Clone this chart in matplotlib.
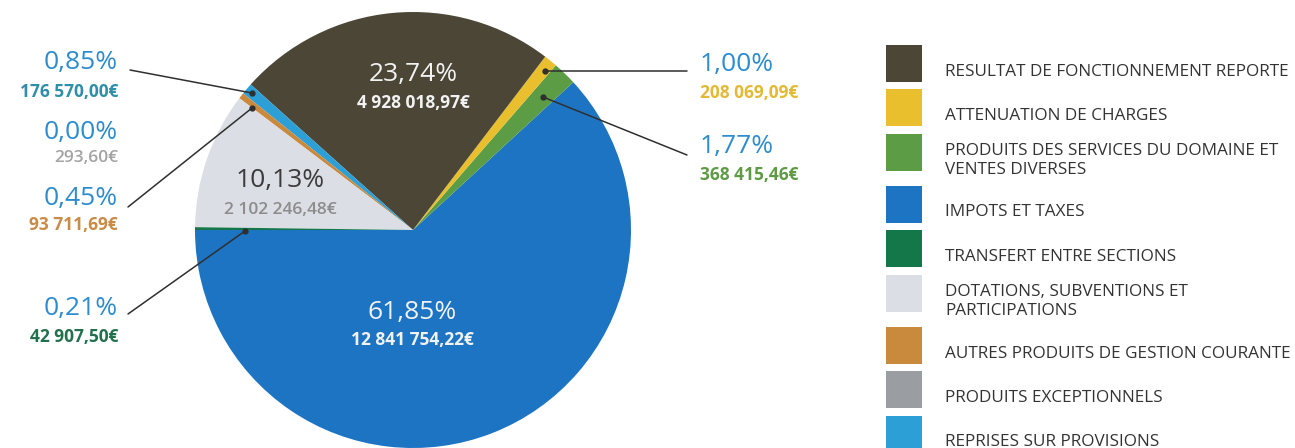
import matplotlib.pyplot as plt
from matplotlib.patches import Rectangle

plt.rcParams["font.family"] = ["Open Sans", "DejaVu Sans"]

# Recettes de fonctionnement, ordre de la légende
categories = [
    "RESULTAT DE FONCTIONNEMENT REPORTE",
    "ATTENUATION DE CHARGES",
    "PRODUITS DES SERVICES DU DOMAINE ET\nVENTES DIVERSES",
    "IMPOTS ET TAXES",
    "TRANSFERT ENTRE SECTIONS",
    "DOTATIONS, SUBVENTIONS ET\nPARTICIPATIONS",
    "AUTRES PRODUITS DE GESTION COURANTE",
    "PRODUITS EXCEPTIONNELS",
    "REPRISES SUR PROVISIONS",
]
amounts = [
    4928018.97,
    208069.09,
    368415.46,
    12841754.22,
    42907.50,
    2102246.48,
    93711.69,
    293.60,
    176570.00,
]
colors = [
    "#4b4636",
    "#e9bf2e",
    "#5c9c44",
    "#1c74c2",
    "#13774a",
    "#dcdee5",
    "#c98a3e",
    "#9a9da2",
    "#2b9fd6",
]
amount_colors = [
    "#f2f2f2",
    "#e3b935",
    "#5f9a45",
    "#f2f2f2",
    "#23704c",
    "#8c8c8c",
    "#c98b45",
    "#a3a3a3",
    "#2f8fa8",
]
# order of the wedges around the pie, starting from the left going down
pie_order = [3, 2, 1, 0, 8, 7, 6, 5, 4]

total = sum(amounts)


def fr_pct(v):
    return "{:.2f}%".format(100 * v / total).replace(".", ",")


def fr_eur(v):
    return "{:,.2f}€".format(v).replace(",", " ").replace(".", ",")


fig = plt.figure(figsize=(12.95, 4.48), dpi=100)
ax = fig.add_axes([0, 0, 1, 1])

ax.pie(
    [amounts[i] for i in pie_order],
    colors=[colors[i] for i in pie_order],
    startangle=180,
    counterclock=False,
    center=(413, 230),
    radius=218,
    wedgeprops=dict(linewidth=0),
)
ax.set_xlim(0, 1295)
ax.set_ylim(448, 0)
ax.set_aspect("equal")
ax.axis("off")

PCT_BLUE = "#2d8ccf"

# labels inside the big wedges
inside = [(0, 413, 75, 103, "#f2f2f2"), (3, 412, 312, 340, "#f2f2f2"),
          (5, 280, 180, 210, "#3b3b3b")]
for i, x, y1, y2, c in inside:
    ax.text(x, y1, fr_pct(amounts[i]), color=c, fontsize=19,
            ha="center", va="center")
    ax.text(x, y2, fr_eur(amounts[i]), color=amount_colors[i] if i == 5 else c,
            fontsize=12.5, fontweight="semibold" if i == 5 else "bold",
            ha="center", va="center")

# outside labels with leader lines
outside = [
    (8, 118, 63, 92, "right", [(130, 70), (252, 93)]),
    (7, 118, 132, 158, "right", None),
    (6, 118, 198, 225, "right", [(128, 207), (252, 108)]),
    (4, 118, 308, 337, "right", [(128, 314), (245, 231)]),
    (1, 700, 65, 93, "left", [(687, 71), (545, 71)]),
    (2, 700, 147, 175, "left", [(687, 155), (543, 97)]),
]
for i, x, y1, y2, ha, line in outside:
    ax.text(x, y1, fr_pct(amounts[i]), color=PCT_BLUE, fontsize=19,
            ha=ha, va="center")
    ax.text(x, y2, fr_eur(amounts[i]), color=amount_colors[i], fontsize=12.5,
            fontweight="semibold" if i == 7 else "bold", ha=ha, va="center")
    if line:
        (xa, ya), (xb, yb) = line
        ax.plot([xa, xb], [ya, yb], color="#2f2f2f", lw=1.1,
                solid_capstyle="round")
        ax.plot(xb, yb, "o", color="#2f2f2f", ms=3.5)

# legend
top = 45
for name, c in zip(categories, colors):
    ax.add_patch(Rectangle((886, top), 36, 37, facecolor=c, edgecolor="none"))
    ax.text(945, top + 26.5, name, color="#333333", fontsize=12.3,
            ha="left", va="center", linespacing=1.2)
    top += 52 if "\n" in name else 44.5

fig.savefig("out.png", dpi=100, facecolor="white")
